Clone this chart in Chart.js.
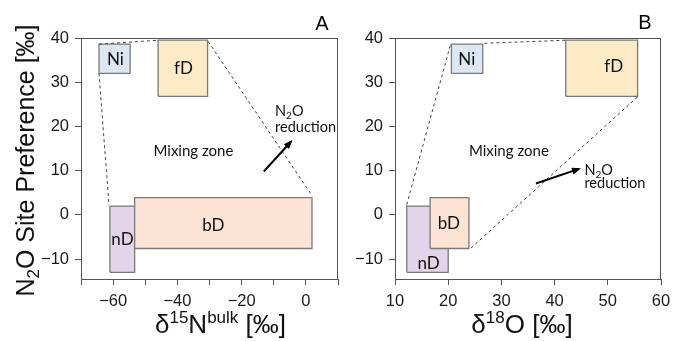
<!DOCTYPE html>
<html>
<head>
<meta charset="utf-8">
<script src="https://cdn.jsdelivr.net/npm/chart.js@4.4.1/dist/chart.umd.min.js"></script>
<style>
  html, body { margin: 0; padding: 0; background: #fff; }
  #wrap { position: relative; width: 673px; height: 341px; overflow: hidden; }
  #chartA { position: absolute; left: 0; top: 0; }
  #chartB { position: absolute; left: 340px; top: 0; }
</style>
</head>
<body>
<div id="wrap">
  <canvas id="chartA" width="340" height="341"></canvas>
  <canvas id="chartB" width="333" height="341"></canvas>
</div>
<script>
// source boxes (same order in both panels)
const sources = ['Ni', 'fD', 'nD', 'bD'];
const spY0 = [32.0, 26.8, -13.0, -7.6];
const spY1 = [38.6, 39.5, 2.0, 3.9];

// panel A: d15N bulk
const aX0 = [-64.4, -46.0, -61.0, -53.3];
const aX1 = [-54.7, -30.6, -53.3, 1.9];
const aLabelX = [-59.3, -38.1, -57.1, -28.8];
const aLabelY = [35.2, 33.2, -5.6, -2.3];
// panel B: d18O
const bX0 = [20.6, 42.1, 12.2, 16.6];
const bX1 = [26.5, 55.6, 20.0, 23.9];
const bLabelX = [23.5, 51.1, 16.3, 20.1];
const bLabelY = [35.1, 33.6, -11.0, -2.0];

// dashed mixing envelope segments [x0, y0, x1, y1]
const aEnvelope = [[-64.4, 38.6, -46.0, 39.5], [-30.4, 39.2, 1.6, 4.7], [-64.4, 32.0, -61.3, 2.4]];
const bEnvelope = [[12.2, 2.3, 20.5, 38.8], [26.8, 38.8, 42.1, 39.5], [55.6, 26.7, 24.2, -7.6]];

// N2O reduction arrows [x0, y0, x1, y1]
const aArrow = [-13.1, 9.8, -4.6, 16.6];
const bArrow = [36.5, 7.1, 44.6, 10.4];

// annotation anchors
const aMixing = [-35.0, 14.3];
const bMixing = [31.4, 14.3];
const aReduction = [-9.6, 23.4, 19.8];   // x, y of "N2O", y of "reduction"
const bReduction = [45.6, 10.2, 7.2];

// ticks
const aXTicks = [-70, -60, -50, -40, -30, -20, -10, 0, 10];
const aXLabels = [-60, -40, -20, 0];
const bXTicks = [10, 20, 30, 40, 50, 60];
const bXLabels = [10, 20, 30, 40, 50, 60];
const yTicks = [-10, 0, 10, 20, 30, 40];

const boxFill = ['#dce7f3', '#fdebc5', '#e3d4ea', '#fde3d4'];
const boxOrder = [3, 3, 5, 4];
const ARIAL = '"Liberation Sans", Arial, sans-serif';
const LATO = 'Lato, "Open Sans", sans-serif';

function fmt(v) { return String(v).replace('-', '\u2212'); }

function drawRuns(ctx, runs, x, y, family, align) {
  let w = 0;
  runs.forEach(r => { ctx.font = r.size + 'px ' + family; r.w = ctx.measureText(r.t).width; w += r.w; });
  let cx = align === 'center' ? x - w / 2 : x;
  ctx.textAlign = 'left';
  runs.forEach(r => {
    ctx.font = r.size + 'px ' + family;
    ctx.fillText(r.t, cx, y + (r.dy || 0));
    cx += r.w;
  });
}

function makeChart(id, cfg) {
  const datasets = [];
  cfg.envelope.forEach(s => {
    datasets.push({
      data: [{x: s[0], y: s[1]}, {x: s[2], y: s[3]}],
      borderColor: '#444', borderWidth: 1, borderDash: [3, 3], pointRadius: 0, fill: false, order: 1
    });
  });
  for (let i = 0; i < sources.length; i++) {
    datasets.push({
      label: sources[i],
      data: [
        {x: cfg.x0[i], y: spY0[i]}, {x: cfg.x1[i], y: spY0[i]},
        {x: cfg.x1[i], y: spY1[i]}, {x: cfg.x0[i], y: spY1[i]},
        {x: cfg.x0[i], y: spY0[i]}
      ],
      fill: 'shape', backgroundColor: boxFill[i], borderColor: '#7a7a7a', borderWidth: 1.3,
      pointRadius: 0, tension: 0, order: boxOrder[i]
    });
  }
  datasets.push({
    data: [{x: cfg.arrow[0], y: cfg.arrow[1]}, {x: cfg.arrow[2], y: cfg.arrow[3]}],
    borderColor: '#000', borderWidth: 2, pointRadius: 0, fill: false, order: 0
  });

  const decor = {
    id: 'decor',
    afterDatasetsDraw(chart) {
      const {ctx, chartArea: ca, scales: {x, y}} = chart;
      ctx.save();
      ctx.strokeStyle = '#555';
      ctx.lineWidth = 1;
      ctx.strokeRect(ca.left + 0.5, ca.top + 0.5, ca.right - ca.left - 1, ca.bottom - ca.top);

      // arrow head
      const x0 = x.getPixelForValue(cfg.arrow[0]), y0 = y.getPixelForValue(cfg.arrow[1]);
      const x1 = x.getPixelForValue(cfg.arrow[2]), y1 = y.getPixelForValue(cfg.arrow[3]);
      const a = Math.atan2(y1 - y0, x1 - x0);
      ctx.fillStyle = '#000';
      ctx.beginPath();
      ctx.moveTo(x1 + 2 * Math.cos(a), y1 + 2 * Math.sin(a));
      ctx.lineTo(x1 - 7 * Math.cos(a) + 3.5 * Math.sin(a), y1 - 7 * Math.sin(a) - 3.5 * Math.cos(a));
      ctx.lineTo(x1 - 7 * Math.cos(a) - 3.5 * Math.sin(a), y1 - 7 * Math.sin(a) + 3.5 * Math.cos(a));
      ctx.closePath();
      ctx.fill();

      // box labels
      ctx.fillStyle = '#111';
      ctx.textBaseline = 'middle';
      ctx.textAlign = 'center';
      ctx.font = '17px ' + LATO;
      for (let i = 0; i < sources.length; i++) {
        ctx.fillText(sources[i], x.getPixelForValue(cfg.lx[i]), y.getPixelForValue(cfg.ly[i]));
      }
      ctx.font = '15px ' + LATO;
      ctx.fillText('Mixing zone', x.getPixelForValue(cfg.mixing[0]), y.getPixelForValue(cfg.mixing[1]));
      ctx.textBaseline = 'alphabetic';
      const rx = x.getPixelForValue(cfg.reduction[0]);
      drawRuns(ctx, [{t: 'N', size: 14.5}, {t: '2', size: 10, dy: 3}, {t: 'O', size: 14.5}],
        rx, y.getPixelForValue(cfg.reduction[1]) + 5, LATO, 'left');
      ctx.font = '14.5px ' + LATO;
      ctx.textAlign = 'left';
      ctx.fillText('reduction', rx, y.getPixelForValue(cfg.reduction[2]) + 5);

      // panel letter
      ctx.fillStyle = '#000';
      ctx.font = '20px ' + ARIAL;
      ctx.textAlign = 'center';
      ctx.fillText(cfg.letter, cfg.letterPos[0], cfg.letterPos[1]);

      // axis titles
      ctx.fillStyle = '#111';
      drawRuns(ctx, cfg.xTitle, (ca.left + ca.right) / 2 + cfg.xTitleShift, 333, ARIAL, 'center');
      if (cfg.yTitle) {
        ctx.translate(33.5, (ca.top + ca.bottom) / 2 + 2);
        ctx.rotate(-Math.PI / 2);
        drawRuns(ctx, cfg.yTitle, 0, 0, ARIAL, 'center');
      }
      ctx.restore();
    }
  };

  const tickFont = {family: ARIAL, size: 16.5};
  return new Chart(document.getElementById(id), {
    type: 'line',
    data: {datasets},
    plugins: [decor],
    options: {
      responsive: false,
      animation: false,
      layout: {padding: {top: 38, right: cfg.padRight, left: 0, bottom: 0}},
      plugins: {legend: {display: false}, tooltip: {enabled: false}},
      scales: {
        x: {
          type: 'linear', min: cfg.xMin, max: cfg.xMax,
          afterBuildTicks: s => { s.ticks = cfg.xTicks.map(v => ({value: v})); },
          afterFit: s => { s.height = 62; s.paddingLeft = 0; s.paddingRight = 0; },
          border: {display: false},
          grid: {drawOnChartArea: false, drawTicks: true, tickLength: 6, tickColor: '#555'},
          ticks: {font: tickFont, color: '#1a1a1a', padding: 7, maxRotation: 0, autoSkip: false,
            callback: v => cfg.xLabels.includes(v) ? fmt(v) : ''}
        },
        y: {
          type: 'linear', min: -14.5, max: 40,
          afterBuildTicks: s => { s.ticks = yTicks.map(v => ({value: v})); },
          afterFit: s => { s.width = cfg.yWidth; s.paddingTop = 0; s.paddingBottom = 0; },
          border: {display: false},
          grid: {drawOnChartArea: false, drawTicks: true, tickLength: 6, tickColor: '#555'},
          ticks: {font: tickFont, color: '#1a1a1a', padding: 6, autoSkip: false, callback: v => fmt(v)}
        }
      }
    }
  });
}

makeChart('chartA', {
  x0: aX0, x1: aX1, lx: aLabelX, ly: aLabelY, envelope: aEnvelope, arrow: aArrow,
  mixing: aMixing, reduction: aReduction, xMin: -70, xMax: 10, xTicks: aXTicks, xLabels: aXLabels,
  yWidth: 81, padRight: 2, letter: 'A', letterPos: [322, 30], xTitleShift: 11,
  xTitle: [{t: '\u03b4', size: 26}, {t: '15', size: 17, dy: -10}, {t: 'N', size: 26},
           {t: 'bulk', size: 17, dy: -10}, {t: ' [\u2030]', size: 26}],
  yTitle: [{t: 'N', size: 25}, {t: '2', size: 17, dy: 5}, {t: 'O Site Preference [\u2030]', size: 25}]
});

makeChart('chartB', {
  x0: bX0, x1: bX1, lx: bLabelX, ly: bLabelY, envelope: bEnvelope, arrow: bArrow,
  mixing: bMixing, reduction: bReduction, xMin: 10, xMax: 60, xTicks: bXTicks, xLabels: bXLabels,
  yWidth: 55, padRight: 12, letter: 'B', letterPos: [305, 29], xTitleShift: -6,
  xTitle: [{t: '\u03b4', size: 26}, {t: '18', size: 17, dy: -10}, {t: 'O [\u2030]', size: 26}],
  yTitle: null
});
</script>
</body>
</html>
